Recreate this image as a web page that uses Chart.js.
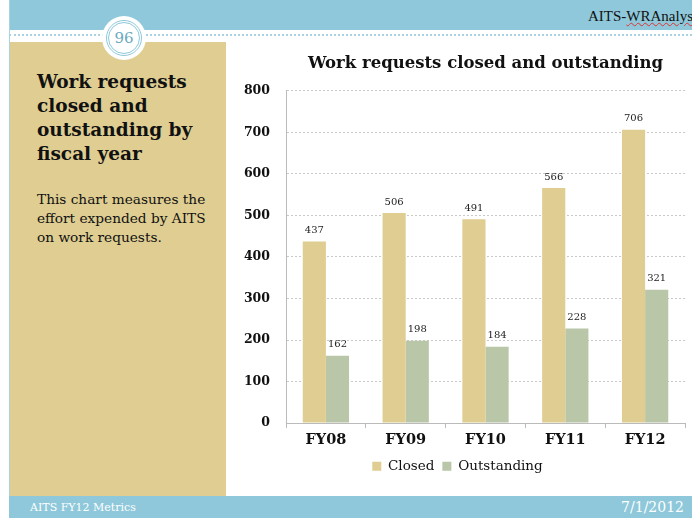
<!DOCTYPE html>
<html>
<head>
<meta charset="utf-8">
<script src="https://cdn.jsdelivr.net/npm/chart.js@4.4.1/dist/chart.umd.min.js"></script>
<style>
  body { margin: 0; width: 692px; height: 518px; overflow: hidden; background: #fff; position: relative; font-family: "DejaVu Serif", serif; }
  .topbar { position: absolute; left: 9px; top: 0; width: 683px; height: 30px; background: #8ec8da; }
  .topbar span { position: absolute; left: 579px; top: 8px; color: #111; white-space: nowrap; font-family: "Liberation Serif", serif; font-size: 15px; }
  .topbar u { text-decoration: underline wavy #d33; text-decoration-thickness: 1px; }
  .dash { position: absolute; left: 9px; top: 34px; width: 683px; border-top: 2px dotted #a9d3e0; }
  .leftline { position: absolute; left: 9px; top: 0; width: 1px; height: 518px; background: #a9d3e0; }
  .panel { position: absolute; left: 10px; top: 42px; width: 216px; height: 454px; background: #dfcd91; }
  .panel h1 { position: absolute; left: 27px; top: 28px; margin: 0; font-size: 18.5px; line-height: 24px; font-weight: bold; color: #111; }
  .panel p { position: absolute; left: 27px; top: 148px; margin: 0; font-size: 13.7px; line-height: 19px; color: #111; }
  .footer { position: absolute; left: 9px; top: 496px; width: 683px; height: 22px; background: #8ec8da; color: #fff; }
  .footer .l { position: absolute; left: 21px; top: 5px; font-size: 11px; }
  .footer .r { position: absolute; right: 8px; top: 3px; font-size: 14px; }
  .badge { position: absolute; left: 102px; top: 16px; width: 44px; height: 44px; border-radius: 50%; background: #fff; }
  .badge .ring { position: absolute; left: 4px; top: 4px; width: 30px; height: 30px; border-radius: 50%; border: 3px double #8ec8da; text-align: center; line-height: 30px; font-size: 15px; color: #6aa9bf; }
  #chartWrap { position: absolute; left: 230px; top: 42px; width: 462px; height: 454px; }
</style>
</head>
<body>
<div class="topbar"><span>AITS-<u>WRAnalysi</u></span></div>
<div class="leftline"></div>
<div class="dash"></div>
<div class="panel">
  <h1>Work requests<br>closed and<br>outstanding by<br>fiscal year</h1>
  <p>This chart measures the<br>effort expended by AITS<br>on work requests.</p>
</div>
<div class="badge"><div class="ring">96</div></div>
<div class="footer"><span class="l">AITS FY12 Metrics</span><span class="r">7/1/2012</span></div>
<div id="chartWrap"><canvas id="myChart" width="462" height="454"></canvas></div>

<script>
// Work requests per fiscal year
var years = ['FY08', 'FY09', 'FY10', 'FY11', 'FY12'];
var closedCount = [437, 506, 491, 566, 706];
var outstandingCount = [162, 198, 184, 228, 321];
var yTicks = [0, 100, 200, 300, 400, 500, 600, 700, 800];

var serif = '"DejaVu Serif", serif';

// Writes each bar's value just above it
var valueLabels = {
    id: 'valueLabels',
    afterDatasetsDraw: function(chart) {
        var ctx = chart.ctx;
        ctx.save();
        ctx.font = '10px ' + serif;
        ctx.fillStyle = '#222';
        ctx.textAlign = 'center';
        ctx.textBaseline = 'bottom';
        chart.data.datasets.forEach(function(ds, i) {
            chart.getDatasetMeta(i).data.forEach(function(bar, j) {
                ctx.fillText(ds.data[j], bar.x, bar.y - 6);
            });
        });
        ctx.restore();
    }
};

var ctx = document.getElementById('myChart').getContext('2d');
var myChart = new Chart(ctx, {
    type: 'bar',
    data: {
        labels: years,
        datasets: [{
            label: 'Closed',
            data: closedCount,
            backgroundColor: '#dfcd91'
        }, {
            label: 'Outstanding',
            data: outstandingCount,
            backgroundColor: '#b9c6a7'
        }]
    },
    options: {
        responsive: false,
        animation: false,
        categoryPercentage: 0.58,
        barPercentage: 1,
        layout: { padding: { left: 0, right: 7, top: 11, bottom: 13 } },
        plugins: {
            title: {
                display: true,
                fullSize: false,
                text: 'Work requests closed and outstanding',
                color: '#111',
                font: { family: serif, size: 16.5, weight: 'bold' },
                padding: { top: 1, bottom: 17 }
            },
            legend: {
                position: 'bottom',
                labels: {
                    color: '#111',
                    font: { family: serif, size: 13.5 },
                    boxWidth: 9,
                    boxHeight: 9,
                    padding: 8
                }
            },
            tooltip: { enabled: false }
        },
        scales: {
            x: {
                grid: { drawOnChartArea: false, drawTicks: true, tickLength: 5, color: '#bbb' },
                border: { color: '#bbb' },
                ticks: { color: '#111', font: { family: serif, size: 14.5, weight: 'bold' }, padding: 3 }
            },
            y: {
                min: 0,
                max: 800,
                afterBuildTicks: function(scale) {
                    scale.ticks = yTicks.map(function(v) { return { value: v }; });
                },
                afterFit: function(scale) { scale.width = 56; },
                grid: { drawTicks: false, color: '#c9c9c9', lineWidth: 1 },
                border: { color: '#bbb', dash: [2, 2] },
                ticks: { color: '#111', font: { family: serif, size: 12.5, weight: 'bold' }, padding: 16 }
            }
        }
    },
    plugins: [valueLabels]
});
</script>
</body>
</html>
